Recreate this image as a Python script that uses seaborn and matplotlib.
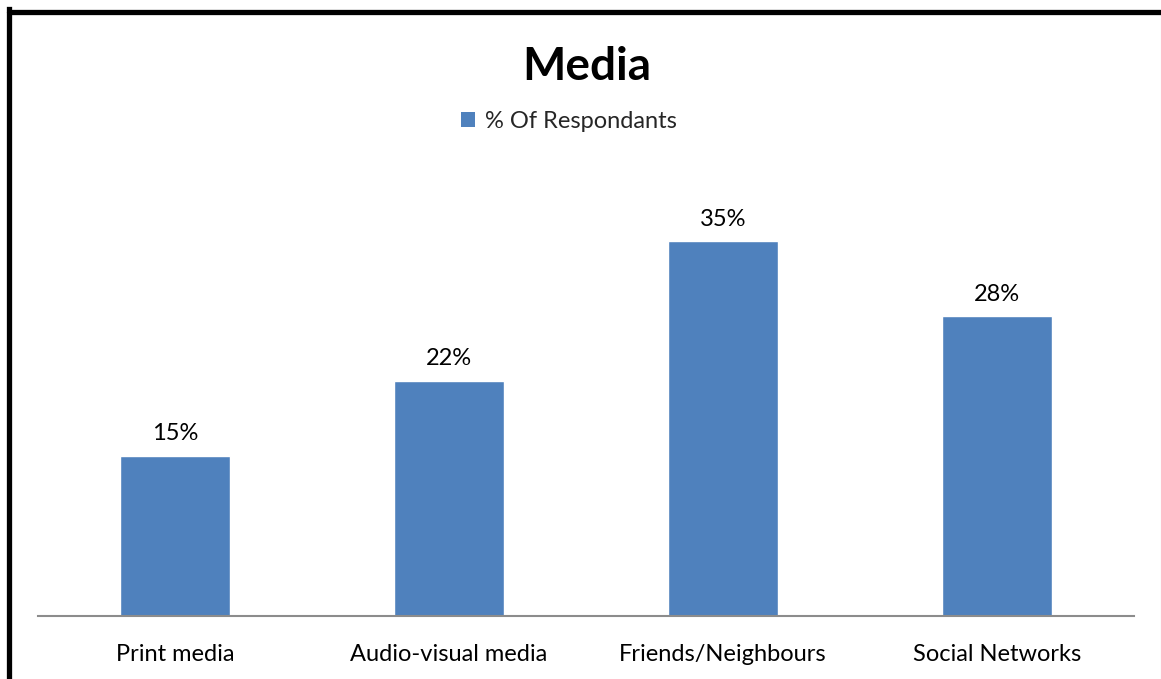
import matplotlib
matplotlib.use("Agg")
import matplotlib.pyplot as plt
from matplotlib.patches import Patch
from matplotlib.lines import Line2D
import seaborn as sns
import pandas as pd

categories = ["Print media", "Audio-visual media", "Friends/Neighbours", "Social Networks"]
respondents_pct = [15, 22, 35, 28]
series_name = "% Of Respondants"
chart_title = "Media"

sns.set_theme(style="white")
plt.rcParams["font.family"] = ["Lato", "DejaVu Sans"]

W, H = 1161, 679
fig = plt.figure(figsize=(W / 100, H / 100), dpi=100)
fig.patch.set_facecolor("white")

bar_color = "#4F81BD"
df = pd.DataFrame({"category": categories, "pct": respondents_pct})

ax = fig.add_axes([38 / W, (H - 616) / H, 1096 / W, 428 / H])
sns.barplot(data=df, x="category", y="pct", color=bar_color, width=0.4,
            saturation=1, ax=ax)
ax.set_ylim(0, 40)
ax.set_xlim(-0.5, len(categories) - 0.5)
ax.set_xlabel("")
ax.set_ylabel("")
ax.set_yticks([])
for side in ("top", "right", "left"):
    ax.spines[side].set_visible(False)
ax.spines["bottom"].set_color("#8C8C8C")
ax.spines["bottom"].set_linewidth(1.5)
ax.tick_params(axis="x", length=0, pad=20, labelsize=17, colors="black")
ax.set_facecolor("white")

for container in ax.containers:
    ax.bar_label(container, labels=[f"{v}%" for v in respondents_pct],
                 padding=8, fontsize=17, color="black")

fig.text(587 / W, 1 - 67 / H, chart_title, ha="center", va="center",
         fontsize=33, fontweight="bold", color="black")

handle = Patch(facecolor=bar_color, edgecolor="none")
fig.legend([handle], [series_name], loc="center",
           bbox_to_anchor=(569 / W, 1 - 121 / H), frameon=False,
           fontsize=17, handlelength=0.6, handleheight=0.6,
           handletextpad=0.4)

# outer chart frame: heavy black on left and top, faint line at right
fig.add_artist(Line2D([8.5 / W, 8.5 / W], [0, 1 - 9 / H], color="black",
                      linewidth=3.8, transform=fig.transFigure,
                      solid_capstyle="projecting"))
fig.add_artist(Line2D([8.5 / W, 1], [1 - 11.5 / H, 1 - 11.5 / H], color="black",
                      linewidth=3.8, transform=fig.transFigure))
fig.add_artist(Line2D([1160.5 / W, 1160.5 / W], [0, 1 - 14 / H], color="#D0D0D0",
                      linewidth=0.8, transform=fig.transFigure))

fig.savefig("out.png", dpi=100, facecolor="white")
